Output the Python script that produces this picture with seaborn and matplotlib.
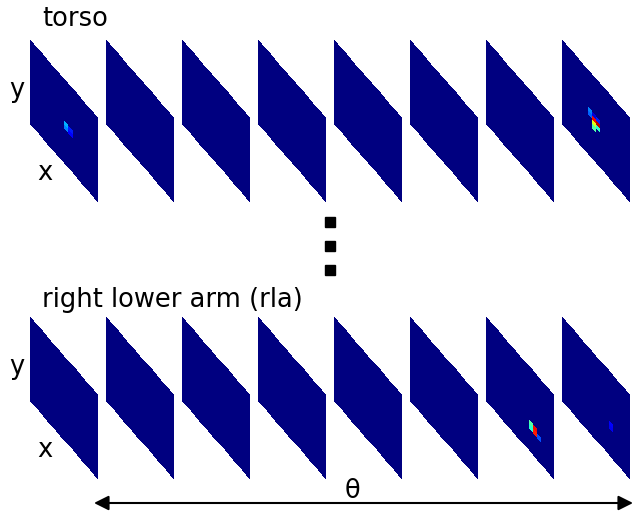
import numpy as np
import seaborn as sns
from matplotlib import pyplot as plt
from matplotlib.transforms import Affine2D

plt.rcParams['font.family'] = ['DejaVu Sans']

# grid of each panel
nx, ny = 16, 20

row_names = ['torso', 'right lower arm (rla)']

# hot cells per panel: (row, col, value)
torso_spots = {
    0: [(10, 8, 0.3), (11, 8, 0.25), (10, 9, 0.15), (11, 9, 0.12)],
    7: [(9, 6, 0.25), (10, 6, 0.22), (9, 7, 0.08), (10, 7, 0.9), (11, 7, 0.62),
        (12, 7, 0.45), (9, 8, 0.15), (10, 8, 0.95), (11, 8, 0.4)],
}
rla_spots = {
    6: [(13, 10, 0.45), (14, 10, 0.4), (13, 11, 0.9), (14, 11, 0.88), (14, 12, 0.2)],
    7: [(12, 11, 0.12), (13, 11, 0.1)],
}

# pixel layout
W, H = 638, 514
px0, dx = 30, 76
row_top = [40, 317]
pw, edge, drop = 68, 83, 79

fig = plt.figure(figsize=(W / 100, H / 100), dpi=100)

def fx(x):
    return x / W

def fy(y):
    return 1 - y / H

k = (drop / edge * ny) / nx
skew = Affine2D().from_values(1, k, 0, 1, 0, 0)

for r, spots in enumerate([torso_spots, rla_spots]):
    for p in range(8):
        grid = np.zeros((ny, nx))
        for (i, j, v) in spots.get(p, []):
            grid[i, j] = v
        left = px0 + p * dx
        ax = fig.add_axes([fx(left), fy(row_top[r] + edge + drop), pw / W, (edge + drop) / H])
        sns.heatmap(grid, ax=ax, cmap='jet', vmin=0, vmax=1, cbar=False,
                    xticklabels=False, yticklabels=False)
        mesh = ax.collections[0]
        mesh.set_transform(skew + ax.transData)
        mesh.set_antialiased(True)
        ax.set_xlim(0, nx)
        ax.set_ylim(ny + k * nx, 0)
        ax.axis('off')

fs = 18.5
fig.text(fx(42), fy(26), row_names[0], fontsize=fs, va='baseline')
fig.text(fx(42), fy(307), row_names[1], fontsize=fs, va='baseline')
for yb, xb in [(97, 180), (374, 457)]:
    fig.text(fx(17), fy(yb), 'y', fontsize=fs, va='baseline', ha='center')
    fig.text(fx(45), fy(xb), 'x', fontsize=fs, va='baseline', ha='center')

# overlay for dots and arrow
ov = fig.add_axes([0, 0, 1, 1])
ov.set_xlim(0, W)
ov.set_ylim(H, 0)
ov.axis('off')
ov.plot([330, 330, 330], [222, 246, 270], 's', color='black', markersize=7.2)
ov.annotate('', xy=(633, 503), xytext=(94, 503),
            arrowprops=dict(arrowstyle='<|-|>', color='black', lw=1.5,
                            mutation_scale=22, shrinkA=0, shrinkB=0))
ov.text(352, 491, 'θ', fontsize=fs, ha='center', va='center')

fig.savefig('out.png', dpi=100)
